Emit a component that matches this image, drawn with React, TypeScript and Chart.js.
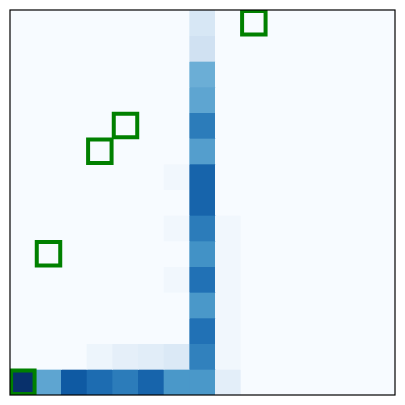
import React, { useEffect, useRef } from "react";
import { Chart, registerables } from "chart.js";

Chart.register(...registerables);

// Heat values, one array per row (row 0 = top), columns 0..14
const row0 = [0, 0, 0, 0, 0, 0, 0, 0.16, 0, 0, 0, 0, 0, 0, 0];
const row1 = [0, 0, 0, 0, 0, 0, 0, 0.2, 0, 0, 0, 0, 0, 0, 0];
const row2 = [0, 0, 0, 0, 0, 0, 0, 0.5, 0, 0, 0, 0, 0, 0, 0];
const row3 = [0, 0, 0, 0, 0, 0, 0, 0.54, 0, 0, 0, 0, 0, 0, 0];
const row4 = [0, 0, 0, 0, 0, 0, 0, 0.71, 0, 0, 0, 0, 0, 0, 0];
const row5 = [0, 0, 0, 0, 0, 0, 0, 0.57, 0, 0, 0, 0, 0, 0, 0];
const row6 = [0, 0, 0, 0, 0, 0, 0.03, 0.8, 0, 0, 0, 0, 0, 0, 0];
const row7 = [0, 0, 0, 0, 0, 0, 0, 0.8, 0, 0, 0, 0, 0, 0, 0];
const row8 = [0, 0, 0, 0, 0, 0, 0.03, 0.71, 0.03, 0, 0, 0, 0, 0, 0];
const row9 = [0, 0, 0, 0, 0, 0, 0, 0.625, 0.03, 0, 0, 0, 0, 0, 0];
const row10 = [0, 0, 0, 0, 0, 0, 0.03, 0.75, 0.03, 0, 0, 0, 0, 0, 0];
const row11 = [0, 0, 0, 0, 0, 0, 0, 0.6, 0.03, 0, 0, 0, 0, 0, 0];
const row12 = [0, 0, 0, 0, 0, 0, 0, 0.75, 0.03, 0, 0, 0, 0, 0, 0];
const row13 = [0, 0, 0, 0.05, 0.09, 0.11, 0.14, 0.69, 0.03, 0, 0, 0, 0, 0, 0];
const row14 = [1.0, 0.54, 0.84, 0.77, 0.71, 0.8, 0.6, 0.6, 0.1, 0, 0, 0, 0, 0, 0];
const rows = [row0, row1, row2, row3, row4, row5, row6, row7, row8, row9, row10, row11, row12, row13, row14];

const colLabels = Array.from({ length: 15 }, (_, i) => String(i));

// Highlighted cells (column, row from top)
const markerCols = [9, 4, 3, 1, 0];
const markerRows = [0, 4, 5, 9, 14];

const BLUES = ["#f7fbff", "#deebf7", "#c6dbef", "#9ecae1", "#6baed6", "#4292c6", "#2171b5", "#08519c", "#08306b"];

function hexToRgb(h: string) {
  return [parseInt(h.slice(1, 3), 16), parseInt(h.slice(3, 5), 16), parseInt(h.slice(5, 7), 16)];
}

function blues(v: number) {
  const t = Math.max(0, Math.min(1, v)) * (BLUES.length - 1);
  const i = Math.min(Math.floor(t), BLUES.length - 2);
  const f = t - i;
  const a = hexToRgb(BLUES[i]);
  const b = hexToRgb(BLUES[i + 1]);
  const c = a.map((x, k) => Math.round(x + (b[k] - x) * f));
  return `rgb(${c[0]},${c[1]},${c[2]})`;
}

const frame = {
  id: "frame",
  afterDraw(chart: any) {
    const { ctx, chartArea } = chart;
    ctx.save();
    ctx.strokeStyle = "#000";
    ctx.lineWidth = 1.2;
    ctx.strokeRect(chartArea.left, chartArea.top, chartArea.right - chartArea.left, chartArea.bottom - chartArea.top);
    ctx.restore();
  },
};

export default function App() {
  const ref = useRef<HTMLCanvasElement>(null);
  useEffect(() => {
    document.body.style.margin = "0";
    const n = rows.length;
    const barSets = rows.map((vals, r) => ({
      type: "bar" as const,
      label: `row${r}`,
      data: vals.map(() => [n - 1 - r, n - r]),
      backgroundColor: vals.map((v) => blues(v)),
      borderWidth: 0,
      barPercentage: 1,
      categoryPercentage: 1,
      grouped: false,
      order: 1,
      xAxisID: "x",
      yAxisID: "y",
    }));
    const markers = {
      type: "scatter" as const,
      label: "marks",
      data: markerCols.map((c, i) => ({ x: c, y: n - 1 - markerRows[i] + 0.5 })),
      pointStyle: "rect",
      pointRadius: 16.6,
      pointHoverRadius: 16.6,
      pointBackgroundColor: "rgba(0,0,0,0)",
      pointBorderColor: "#008000",
      pointBorderWidth: 4,
      pointHoverBorderWidth: 4,
      clip: 0,
      order: -1,
      xAxisID: "x2",
      yAxisID: "y",
    };
    const chart = new Chart(ref.current!, {
      type: "bar",
      data: { labels: colLabels, datasets: [...barSets, markers] as any },
      options: {
        animation: false,
        responsive: false,
        maintainAspectRatio: false,
        layout: { autoPadding: false, padding: { left: 10, top: 10, right: 10, bottom: 10 } },
        plugins: { legend: { display: false }, tooltip: { enabled: false } },
        events: [],
        scales: {
          x: { type: "category", display: false, offset: true },
          x2: { type: "linear", display: false, offset: false, min: -0.5, max: 14.5 },
          y: { type: "linear", display: false, offset: false, min: 0, max: 15 },
        },
      } as any,
      plugins: [frame],
    });
    return () => chart.destroy();
  }, []);
  return <canvas ref={ref} width={405} height={405} style={{ display: "block", width: 405, height: 405 }} />;
}
